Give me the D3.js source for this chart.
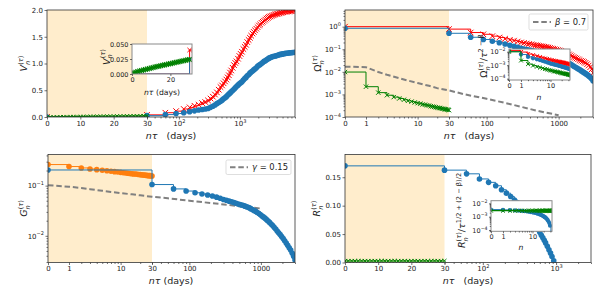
<!DOCTYPE html>
<html>
<head>
<meta charset="utf-8">
<script src="https://cdnjs.cloudflare.com/ajax/libs/d3/7.8.5/d3.min.js"></script>
<style>
  body { margin: 0; background: #fff; }
  svg { display: block; font-family: "DejaVu Sans", sans-serif; }
  text { white-space: pre; }
</style>
</head>
<body>
<div id="chart"></div>
<script>
const TAU = 30, BETA = 0.7;

// time grids (days)
const dayT = [0,1,2,3,4,5,6,7,8,9,10,11,12,13,14,15,16,17,18,19,20,21,22,23,24,25,26,27,28,29,30,
              31,32,33,34,35,36,37,38,39,40];
const monT = [0,30,60,90,120,150,180,210,240,270,300,330,360,390,420,450,
              480,510,540,570,600,630,660,690,720,760,800,840,880,930,980,1030,1080,1140,1200,1260,
              1320,1390,1460,1530,1610,1690,1770,1860,1950,2050,2150,2260,2370,2490,2610,2740,2870,3000];
const monTLong = monT.concat([3150,3310,3480,3650,3830,4020,4220,4430,4650,4880,
                              5120,5380,5650,5930,6230,6540,6870,7210,7570,8000]);

// (a) V
const vRed  = [0,0.04,0.08,0.11,0.15,0.18,0.21,0.23,0.26,0.28,0.31,0.345,0.38,0.42,0.46,0.51,
               0.56,0.59,0.63,0.665,0.70,0.74,0.78,0.83,0.87,0.92,0.97,1.01,1.04,1.09,1.14,1.18,1.22,1.27,1.31,1.35,
               1.40,1.44,1.48,1.52,1.56,1.59,1.62,1.65,1.68,1.71,1.73,1.76,1.78,1.80,1.82,1.84,1.855,1.87,
               1.88,1.89,1.90,1.91,1.92,1.925,1.93,1.94,1.945,1.95,1.96,1.965,1.97,1.973,1.976,1.98,1.983,1.986,1.988,1.99];
const vBlue = [0,0.025,0.045,0.065,0.08,0.10,0.115,0.13,0.14,0.15,0.16,0.18,0.20,0.225,0.25,0.27,
               0.29,0.315,0.34,0.36,0.38,0.405,0.43,0.45,0.47,0.495,0.52,0.545,0.57,0.595,0.62,0.64,0.66,0.69,0.72,0.74,
               0.77,0.79,0.82,0.84,0.86,0.88,0.90,0.92,0.95,0.965,0.98,1.00,1.02,1.04,1.05,1.07,1.085,1.10,
               1.11,1.12,1.13,1.135,1.14,1.15,1.155,1.165,1.17,1.175,1.18,1.185,1.19,1.192,1.195,1.20,1.202,1.205,1.207,1.21];
const vGreen = [0.001,0.002,0.003,0.004,0.005,0.006,0.0068,0.0076,0.0084,0.0092,0.0100,0.0108,0.0116,0.0124,0.0131,
                0.0138,0.0145,0.0152,0.0159,0.0166,0.0173,0.0180,0.0187,0.0194,0.0201,0.0208,0.0215,0.0222,0.0229,0.0236,0.0243];

// (b) Omega
const omRed  = [1.0,0.78,0.55,0.46,0.38,0.33,0.29,0.26,0.24,0.22,0.20,0.19,0.18,0.172,0.165,0.158,
                0.152,0.147,0.142,0.137,0.133,0.129,0.125,0.122,0.118,0.114,0.108,0.104,0.10,0.096,0.092,0.088,0.083,0.078,0.073,0.068,
                0.064,0.059,0.054,0.049,0.045,0.042,0.039,0.036,0.033,0.031,0.029,0.027,0.025,0.022,0.019,0.016,0.013,0.009];
const omBlue = [0.85,0.51,0.34,0.27,0.225,0.195,0.17,0.15,0.135,0.122,0.11,0.103,0.097,0.092,0.087,0.083,
                0.079,0.075,0.072,0.069,0.066,0.063,0.061,0.059,0.057,0.054,0.051,0.049,0.047,0.044,0.041,0.039,0.036,0.033,0.031,0.029,
                0.027,0.024,0.022,0.020,0.018,0.0165,0.015,0.0138,0.0125,0.0113,0.0102,0.0092,0.0083,0.0075,0.0066,0.0057,0.0049,0.004];
const omGreen = [0.0098,0.0022,0.0012,0.00092,0.00076,0.00066,0.00058,0.00052,0.00048,0.00044,0.00041,0.00039,0.00036,0.00035,
                 0.00033,0.00032,0.0003,0.00029,0.00028,0.00027,0.00026,0.00025,0.00025,0.00024,0.00023,0.00023,0.00022,0.00022,
                 0.00021,0.00021,0.0002,0.000195,0.00019,0.000186,0.000182,0.000178,0.000174,0.00017,0.000167,0.000164,0.00016];
const betaT = [0,1,2,3,5,7,10,15,20,30,50,100,200,500,1000];
const betaV = [0.017,0.016,0.0098,0.0074,0.0052,0.0041,0.0032,0.0024,0.0019,0.0015,0.001,0.00064,0.00039,0.00019,0.00012];

// (c) G
const gBlue = [0.205,0.105,0.086,0.078,0.072,0.068,0.065,0.062,0.059,0.056,0.053,0.051,0.049,0.0475,0.046,0.0445,
               0.043,0.042,0.041,0.040,0.039,0.038,0.037,0.036,0.0348,0.0335,0.032,0.031,0.0295,0.028,0.0265,0.025,0.0238,0.0225,0.021,0.0198,
               0.0185,0.0172,0.016,0.0148,0.0136,0.0125,0.0115,0.0106,0.0097,0.0088,0.008,0.0072,0.0065,0.0058,0.0052,0.0045,0.0039,0.0033];
const gOrange = [0.263,0.24,0.225,0.215,0.208,0.203,0.198,0.194,0.19,0.187,0.184,0.181,0.179,0.177,0.175,0.173,0.171,0.17,0.168,
                 0.167,0.166,0.165,0.163,0.162,0.161,0.16,0.159,0.158,0.158,0.157,0.156];
const gammaT = [0,1,2,3,5,7,10,15,20,30,50,100,200,500,1000];
const gammaV = [0.102,0.095,0.09,0.085,0.079,0.075,0.071,0.067,0.064,0.06,0.056,0.05,0.045,0.039,0.035];

// (d) R  (first entries of monT)
const rBlue = [0.17,0.1625,0.156,0.147,0.141,0.135,0.128,0.122,0.116,0.110,0.105,0.0995,0.094,0.089,0.084,0.0785,
               0.073,0.068,0.063,0.058,0.053,0.048,0.0435,0.039,0.0345,0.0285,0.0225,0.0165,0.0105,0.003,-0.0045,-0.012];
const rGreen = [0.0028,0.0028,0.0028,0.0028,0.0028,0.0028,0.0028,0.0028,0.0028,0.0028,0.0028,0.0028,0.0028,0.0028,
                0.0028,0.0028,0.0028,0.0028,0.0028,0.0028,0.0028,0.0028,0.0028,0.0028,0.0028,0.0028,0.0028,0.0028,
                0.0028,0.0028,0.0028,0.0028,0.0028,0.0028,0.0028,0.0028,0.0028,0.0028,0.0028,0.0028,0.0028];

const C = { red: "#ff0000", blue: "#1f77b4", green: "#008000", orange: "#ff7f0e", dash: "#808080", shade: "#ffedcc" };
const INK = "#222";

const svg = d3.select('#chart').append('svg').attr('width', 600).attr('height', 300);
const defs = svg.append('defs');
let clipN = 0;
function clip(x0, y0, x1, y1) {
    const id = 'clip' + (clipN++);
    defs.append('clipPath').attr('id', id).append('rect')
        .attr('x', x0).attr('y', y0).attr('width', x1 - x0).attr('height', y1 - y0);
    return `url(#${id})`;
}

const mix = (inner, outer) => t => t <= 30 ? inner(t) : outer(t);

function draw(layer, ts, vs, X, Y, o) {
    const pts = [];
    vs.forEach((v, i) => {
        const x = X(ts[i]), y = Y(v);
        if (isFinite(x) && isFinite(y)) pts.push([x, y]);
    });
    layer.append('path')
        .attr('d', d3.line().curve(o.step ? d3.curveStepAfter : d3.curveLinear)(pts))
        .attr('fill', 'none').attr('stroke', o.color).attr('stroke-width', o.lw || 1);
    if (o.marker === 'o') {
        layer.append('g').selectAll('circle').data(pts).join('circle')
            .attr('cx', p => p[0]).attr('cy', p => p[1]).attr('r', o.r).attr('fill', o.color);
    } else if (o.marker === 'x') {
        const sym = d3.symbol(d3.symbolX, o.size)();
        layer.append('g').selectAll('path').data(pts).join('path')
            .attr('transform', p => `translate(${p[0]},${p[1]})`).attr('d', sym)
            .attr('fill', 'none').attr('stroke', o.color).attr('stroke-width', o.sw || 1);
    }
}

function dashed(layer, ts, vs, X, Y) {
    const pts = ts.map((t, i) => [X(t), Y(vs[i])]);
    layer.append('path').attr('d', d3.line()(pts)).attr('fill', 'none')
        .attr('stroke', C.dash).attr('stroke-width', 2).attr('stroke-dasharray', '5.5,2.8');
}

function styleAxis(s, fs) {
    s.attr('font-family', null).attr('font-size', null);
    s.select('.domain').remove();
    s.selectAll('.tick line').attr('stroke', '#333').attr('stroke-width', 0.7);
    s.selectAll('.tick text').attr('fill', INK).attr('font-size', fs);
    return s;
}
function sup10(s, fs) {
    s.selectAll('.tick text').each(function (d) {
        const e = Math.round(Math.log10(d));
        const t = d3.select(this).text(null);
        t.append('tspan').text('10');
        t.append('tspan').attr('dy', -fs * 0.45).attr('font-size', fs * 0.72)
            .text(e < 0 ? '\u2212' + (-e) : String(e));
    });
}
function axisB(g, scale, y, vals, fmt, len, fs) {
    const a = d3.axisBottom(scale).tickValues(vals).tickSize(len).tickSizeOuter(0).tickPadding(1.5)
        .tickFormat(fmt === null ? '' : fmt);
    return styleAxis(g.append('g').attr('transform', `translate(0,${y})`).call(a), fs);
}
function axisL(g, scale, x, vals, fmt, len, fs) {
    const a = d3.axisLeft(scale).tickValues(vals).tickSize(len).tickSizeOuter(0).tickPadding(1.5)
        .tickFormat(fmt === null ? '' : fmt);
    return styleAxis(g.append('g').attr('transform', `translate(${x},0)`).call(a), fs);
}
function logMinor(scale) {
    return scale.ticks().filter(v => Math.abs(Math.log10(v) - Math.round(Math.log10(v))) > 1e-6);
}

function frame(g, x0, y0, x1, y1, color, w) {
    g.append('rect').attr('x', x0).attr('y', y0).attr('width', x1 - x0).attr('height', y1 - y0)
        .attr('fill', 'none').attr('stroke', color || '#333').attr('stroke-width', w || 0.8);
}

// symbol with subscript n and superscript (tau), optional tail "/tau^{...}"
function symLabel(parent, x, y, fs, sym, italic, rot, tail) {
    const t = parent.append('text')
        .attr('transform', `translate(${x},${y})` + (rot ? ` rotate(${rot})` : ''))
        .attr('text-anchor', 'middle').attr('font-size', fs).attr('fill', INK);
    const s = fs * 0.7;
    t.append('tspan').attr('font-style', italic ? 'italic' : 'normal').text(sym);
    t.append('tspan').attr('font-style', 'italic').attr('font-size', s).attr('dy', fs * 0.28).text('n');
    const sp = t.append('tspan').attr('font-size', s).attr('dx', -s * 0.62).attr('dy', -fs * 0.72);
    sp.append('tspan').text('(');
    sp.append('tspan').attr('font-style', 'italic').text('τ');
    sp.append('tspan').text(')');
    if (tail) {
        t.append('tspan').attr('dy', fs * 0.44).text('/');
        t.append('tspan').attr('font-style', 'italic').text('τ');
        t.append('tspan').attr('font-size', s).attr('dy', -fs * 0.42).text(tail);
    }
    return t;
}
function xLabel(parent, x, y, fs, gap) {
    const t = parent.append('text').attr('x', x).attr('y', y).attr('text-anchor', 'middle')
        .attr('font-size', fs).attr('fill', INK);
    t.append('tspan').attr('font-style', 'italic').text('nτ');
    t.append('tspan').text(gap + '(days)');
}
function legend(g, x, y, w, h, sym, val, fs) {
    g.append('rect').attr('x', x).attr('y', y).attr('width', w).attr('height', h).attr('rx', 1.5)
        .attr('fill', '#fff').attr('stroke', '#d0d0d0').attr('stroke-width', 0.7);
    g.append('line').attr('x1', x + 4).attr('x2', x + 22).attr('y1', y + h / 2).attr('y2', y + h / 2)
        .attr('stroke', C.dash).attr('stroke-width', 2).attr('stroke-dasharray', '5.5,2.8');
    const t = g.append('text').attr('x', x + 26).attr('y', y + h / 2 + fs * 0.36).attr('font-size', fs).attr('fill', INK);
    t.append('tspan').attr('font-style', 'italic').text(sym);
    t.append('tspan').text(' = ' + val);
}
function shade(layer, x0, y0, x1, y1) {
    layer.append('rect').attr('x', x0).attr('y', y0).attr('width', x1 - x0).attr('height', y1 - y0).attr('fill', C.shade);
}
const innerMinor = [2,3,4,5,6,7,8,9,20];
const FT = 7, FL = 9.5, FI = 6.5;
const RX = 22, RO = 2.8;

// ---------------- panel (a) ----------------
{
    const p = { x0: 47, x1: 295, y0: 10, y1: 117, xs: 147 };
    const g = svg.append('g');
    const xin = d3.scaleLinear().domain([0, 30]).range([p.x0, p.xs]);
    const xout = d3.scaleLog().domain([30, 8000]).range([p.xs, p.x1]);
    const X = mix(xin, xout);
    const Y = d3.scaleLinear().domain([0, 2]).range([p.y1, p.y0]);
    const plot = g.append('g').attr('clip-path', clip(p.x0, p.y0, p.x1, p.y1));
    shade(plot, p.x0, p.y0, p.xs, p.y1);
    draw(plot, monTLong, vRed, X, Y, { color: C.red, step: true, marker: 'x', size: RX });
    draw(plot, monTLong, vBlue, X, Y, { color: C.blue, step: true, marker: 'o', r: RO });
    draw(plot, dayT.slice(0, 31), vGreen, X, Y, { color: C.green, marker: 'x', size: 9 });
    frame(g, p.x0, p.y0, p.x1, p.y1);
    axisB(g, xin, p.y1, [0, 10, 20, 30], d3.format('d'), 2.5, FT);
    sup10(axisB(g, xout, p.y1, [100, 1000], d3.format('d'), 2.5, FT), FT);
    axisB(g, xout, p.y1, logMinor(xout), null, 1.5, FT);
    axisL(g, Y, p.x0, [0, 0.5, 1, 1.5, 2], d3.format('.1f'), 2.5, FT);
    xLabel(g, 171, 139, FL, '   ');
    symLabel(g, 27, 63.5, FL, 'V', true, -90);

    // inset
    const q = { x0: 132, x1: 192, y0: 44, y1: 74 };
    const ix = d3.scaleLinear().domain([0, 31.25]).range([q.x0, q.x1]);
    const iy = d3.scaleLinear().domain([0, 0.05]).range([q.y1, q.y0]);
    g.append('rect').attr('x', q.x0).attr('y', q.y0).attr('width', q.x1 - q.x0).attr('height', q.y1 - q.y0).attr('fill', '#fff');
    const ip = g.append('g').attr('clip-path', clip(q.x0, q.y0, q.x1, q.y1));
    draw(ip, monTLong, vRed, ix, iy, { color: C.red, step: true, marker: 'x', size: 14 });
    draw(ip, monTLong, vBlue, ix, iy, { color: C.blue, step: true, marker: 'o', r: 1.8 });
    draw(ip, dayT.slice(0, 31), vGreen, ix, iy, { color: C.green, marker: 'x', size: 16, lw: 1.5, sw: 1.2 });
    frame(g, q.x0, q.y0, q.x1, q.y1, '#8a8a8a', 1);
    axisB(g, ix, q.y1, [0, 20], d3.format('d'), 2, FI);
    axisL(g, iy, q.x0, [0, 0.025, 0.05], d3.format('.3f'), 2, FI);
    xLabel(g, 162, 94.5, 7.7, ' ');
    symLabel(g, 109.5, 57, 9.5, 'V', true, -90);
}

// ---------------- panel (b) ----------------
{
    const p = { x0: 345, x1: 593, y0: 10, y1: 117, xs: 449 };
    const g = svg.append('g');
    const xin = d3.scaleSymlog().constant(1).domain([0, 30]).range([p.x0, p.xs]);
    const xout = d3.scaleLog().domain([30, 3000]).range([p.xs, p.x1]);
    const X = mix(xin, xout);
    const Y = d3.scaleLog().domain([1e-4, 5.48]).range([p.y1, p.y0]);
    const plot = g.append('g').attr('clip-path', clip(p.x0, p.y0, p.x1, p.y1));
    shade(plot, p.x0, p.y0, p.xs, p.y1);
    dashed(plot, betaT, betaV, X, Y);
    draw(plot, monT, omRed, X, Y, { color: C.red, step: true, marker: 'x', size: RX });
    draw(plot, monT, omBlue, X, Y, { color: C.blue, step: true, marker: 'o', r: RO });
    draw(plot, dayT.slice(0, 31), omGreen.slice(0, 31), X, Y, { color: C.green, step: true, marker: 'x', size: 14 });
    frame(g, p.x0, p.y0, p.x1, p.y1);
    axisB(g, xin, p.y1, [0, 1, 10, 30], d3.format('d'), 2.5, FT);
    axisB(g, xin, p.y1, innerMinor, null, 1.5, FT);
    axisB(g, xout, p.y1, [100, 1000], d3.format('d'), 2.5, FT);
    axisB(g, xout, p.y1, logMinor(xout), null, 1.5, FT);
    sup10(axisL(g, Y, p.x0, [1e-4, 1e-3, 1e-2, 1e-1, 1], d3.format(''), 2.5, FT), FT);
    axisL(g, Y, p.x0, logMinor(Y), null, 1.5, FT);
    xLabel(g, 469, 139, FL, '   ');
    symLabel(g, 321, 63.5, FL, 'Ω', false, -90);
    legend(g, 529, 14, 59, 16, 'β', '0.7', 8.4);

    // inset
    const q = { x0: 509, x1: 570, y0: 49, y1: 80 };
    const ix = d3.scaleSymlog().constant(1).domain([0, 33]).range([q.x0, q.x1]);
    const iy = d3.scaleLog().domain([Math.pow(10, -4.1), Math.pow(10, -1.8)]).range([q.y1, q.y0]);
    const sc = Math.pow(TAU, 2 - BETA);
    const n30 = monT.map(t => t / TAU);
    g.append('rect').attr('x', q.x0).attr('y', q.y0).attr('width', q.x1 - q.x0).attr('height', q.y1 - q.y0).attr('fill', '#fff');
    const ip = g.append('g').attr('clip-path', clip(q.x0, q.y0, q.x1, q.y1));
    draw(ip, n30, omRed.map(v => v / sc), ix, iy, { color: C.red, step: true, marker: 'x', size: 12 });
    draw(ip, n30, omBlue.map(v => v / sc), ix, iy, { color: C.blue, step: true, marker: 'o', r: 2.1 });
    draw(ip, dayT, omGreen, ix, iy, { color: C.green, step: true, marker: 'x', size: 11 });
    frame(g, q.x0, q.y0, q.x1, q.y1, '#8a8a8a', 1);
    axisB(g, ix, q.y1, [0, 1, 10], d3.format('d'), 2, FI);
    axisB(g, ix, q.y1, [2,3,4,5,6,7,8,9,20,30], null, 1.2, FI);
    sup10(axisL(g, iy, q.x0, [1e-4, 1e-3, 1e-2], d3.format(''), 2, FI), FI);
    axisL(g, iy, q.x0, logMinor(iy), null, 1.2, FI);
    g.append('text').attr('x', 539).attr('y', 100).attr('text-anchor', 'middle').attr('font-size', 7.7)
        .attr('font-style', 'italic').attr('fill', INK).text('n');
    symLabel(g, 487, 56, 9.5, 'Ω', false, -90, '2 \u2212 β');
}

// ---------------- panel (c) ----------------
{
    const p = { x0: 48, x1: 295, y0: 154.5, y1: 262.5, xs: 152 };
    const g = svg.append('g');
    const xin = d3.scaleSymlog().constant(1).domain([0, 30]).range([p.x0, p.xs]);
    const xout = d3.scaleLog().domain([30, 3000]).range([p.xs, p.x1]);
    const X = mix(xin, xout);
    const Y = d3.scaleLog().domain([0.00294, 0.417]).range([p.y1, p.y0]);
    const plot = g.append('g').attr('clip-path', clip(p.x0, p.y0, p.x1, p.y1));
    shade(plot, p.x0, p.y0, p.xs, p.y1);
    dashed(plot, gammaT, gammaV, X, Y);
    draw(plot, dayT.slice(0, 31), gOrange, X, Y, { color: C.orange, step: true, marker: 'o', r: RO });
    draw(plot, monT, gBlue, X, Y, { color: C.blue, step: true, marker: 'o', r: RO });
    frame(g, p.x0, p.y0, p.x1, p.y1);
    axisB(g, xin, p.y1, [0, 1, 10, 30], d3.format('d'), 2.5, FT);
    axisB(g, xin, p.y1, innerMinor, null, 1.5, FT);
    axisB(g, xout, p.y1, [100, 1000], d3.format('d'), 2.5, FT);
    axisB(g, xout, p.y1, logMinor(xout), null, 1.5, FT);
    sup10(axisL(g, Y, p.x0, [1e-2, 1e-1], d3.format(''), 2.5, FT), FT);
    axisL(g, Y, p.x0, logMinor(Y), null, 1.5, FT);
    xLabel(g, 171, 284, FL, ' ');
    symLabel(g, 27, 208.5, FL, 'G', true, -90);
    legend(g, 226, 160, 65, 14.5, 'γ', '0.15', 8.4);
}

// ---------------- panel (d) ----------------
{
    const p = { x0: 345, x1: 591, y0: 154.5, y1: 262.5, xs: 444.5 };
    const g = svg.append('g');
    const xin = d3.scaleLinear().domain([0, 30]).range([p.x0, p.xs]);
    const xout = d3.scaleLog().domain([30, 3000]).range([p.xs, p.x1]);
    const X = mix(xin, xout);
    const Y = d3.scaleLinear().domain([0, 0.19]).range([p.y1, p.y0]);
    const rT = monT.slice(0, rBlue.length);
    const plot = g.append('g').attr('clip-path', clip(p.x0, p.y0, p.x1, p.y1));
    shade(plot, p.x0, p.y0, p.xs, p.y1);
    draw(plot, rT, rBlue, X, Y, { color: C.blue, step: true, marker: 'o', r: RO });
    draw(plot, dayT.slice(0, 31), rGreen.slice(0, 31), X, Y, { color: C.green, step: true, marker: 'x', size: 12 });
    frame(g, p.x0, p.y0, p.x1, p.y1);
    axisB(g, xin, p.y1, [0, 10, 20, 30], d3.format('d'), 2.5, FT);
    sup10(axisB(g, xout, p.y1, [100, 1000], d3.format('d'), 2.5, FT), FT);
    axisB(g, xout, p.y1, logMinor(xout), null, 1.5, FT);
    axisL(g, Y, p.x0, [0, 0.05, 0.1, 0.15], d3.format('.2f'), 2.5, FT);
    xLabel(g, 468, 284, FL, '   ');
    symLabel(g, 320, 208.5, FL, 'R', true, -90);

    // inset
    const q = { x0: 491, x1: 552, y0: 200.7, y1: 231.3 };
    const ix = d3.scaleSymlog().constant(1).domain([0, 33]).range([q.x0, q.x1]);
    const iy = d3.scaleLog().domain([Math.pow(10, -4.1), Math.pow(10, -1.8)]).range([q.y1, q.y0]);
    const sc = Math.pow(TAU, 0.5 + (2 - BETA) / 2);
    g.append('rect').attr('x', q.x0).attr('y', q.y0).attr('width', q.x1 - q.x0).attr('height', q.y1 - q.y0).attr('fill', '#fff');
    const ip = g.append('g').attr('clip-path', clip(q.x0, q.y0, q.x1, q.y1));
    draw(ip, rT.map(t => t / TAU), rBlue.map(v => v / sc), ix, iy, { color: C.blue, step: true, marker: 'o', r: 2.1 });
    draw(ip, dayT, rGreen, ix, iy, { color: C.green, step: true, marker: 'x', size: 11, lw: 1.2 });
    frame(g, q.x0, q.y0, q.x1, q.y1, '#8a8a8a', 1);
    axisB(g, ix, q.y1, [0, 1, 10], d3.format('d'), 2, FI);
    axisB(g, ix, q.y1, [2,3,4,5,6,7,8,9,20,30], null, 1.2, FI);
    sup10(axisL(g, iy, q.x0, [1e-4, 1e-3, 1e-2], d3.format(''), 2, FI), FI);
    axisL(g, iy, q.x0, logMinor(iy), null, 1.2, FI);
    g.append('text').attr('x', 521).attr('y', 250).attr('text-anchor', 'middle').attr('font-size', 7.7)
        .attr('font-style', 'italic').attr('fill', INK).text('n');
    symLabel(g, 465, 210.5, 9.5, 'R', true, -90, '1/2 + (2 \u2212 β)/2');
}
</script>
</body>
</html>
